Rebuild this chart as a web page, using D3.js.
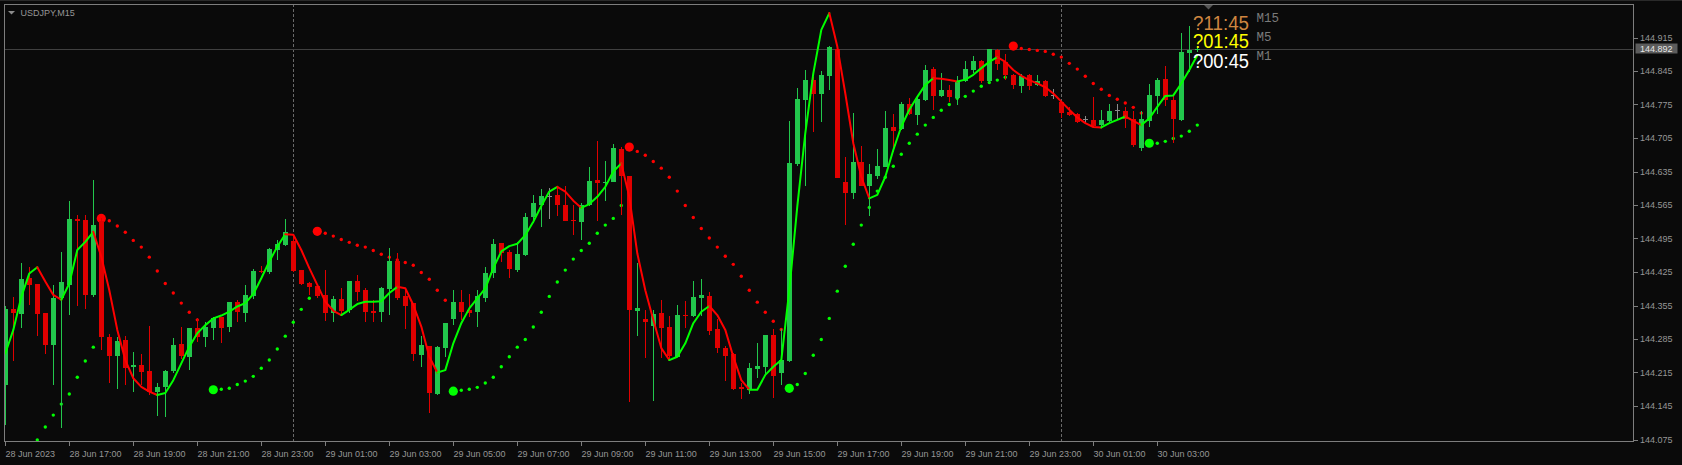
<!DOCTYPE html>
<html><head><meta charset="utf-8">
<script src="https://cdn.jsdelivr.net/npm/d3@7"></script>
<style>
html,body{margin:0;padding:0;background:#0a0a0a;overflow:hidden;}
svg{display:block;}
</style></head><body>
<svg id="c" width="1682" height="465"></svg>
<script>
// ---------- DATA ----------
const symbolTitle = "USDJPY,M15";
const opens = [
144.189,144.347,144.337,144.413,144.400,144.340,144.273,144.371,144.398,144.536,
144.534,144.377,144.532,144.289,144.250,144.282,144.227,144.231,144.218,144.174,
144.184,144.218,144.275,144.248,144.307,144.290,144.307,144.330,144.311,144.363,
144.340,144.375,144.428,144.424,144.471,144.481,144.490,144.429,144.402,144.396,
144.377,144.340,144.369,144.346,144.406,144.387,144.344,144.342,144.390,144.447,
144.375,144.360,144.252,144.270,144.170,144.267,144.327,144.362,144.346,144.342,
144.371,144.422,144.485,144.466,144.429,144.461,144.539,144.565,144.584,144.586,
144.565,144.534,144.530,144.565,144.617,144.610,144.614,144.682,144.626,144.344,
144.327,144.313,144.340,144.311,144.248,144.335,144.333,144.371,144.375,144.306,
144.266,144.254,144.185,144.179,144.222,144.227,144.294,144.213,144.238,144.651,
144.784,144.826,144.797,144.835,144.892,144.613,144.591,144.654,144.605,144.626,
144.645,144.729,144.723,144.776,144.753,144.784,144.849,144.793,144.805,144.788,
144.825,144.847,144.866,144.824,144.889,144.864,144.837,144.814,144.837,144.816,
144.824,144.795,144.781,144.760,144.755,144.745,144.743,144.732,144.741,144.764,
144.761,144.745,144.685,144.741,144.793,144.828,144.784,144.743,144.883,144.889];
const highs = [
144.354,144.373,144.443,144.436,144.400,144.340,144.398,144.467,144.573,144.544,
144.544,144.617,144.537,144.296,144.289,144.291,144.258,144.254,144.312,144.193,
144.220,144.288,144.311,144.307,144.328,144.321,144.332,144.330,144.363,144.367,
144.398,144.431,144.438,144.475,144.492,144.535,144.504,144.430,144.405,144.397,
144.429,144.375,144.391,144.406,144.419,144.391,144.367,144.394,144.475,144.464,
144.387,144.360,144.291,144.270,144.270,144.319,144.387,144.387,144.379,144.387,
144.436,144.494,144.485,144.471,144.488,144.548,144.586,144.599,144.600,144.603,
144.605,144.565,144.569,144.645,144.699,144.657,144.693,144.686,144.626,144.443,
144.346,144.346,144.367,144.333,144.356,144.364,144.406,144.410,144.383,144.327,
144.270,144.256,144.194,144.234,144.276,144.294,144.305,144.305,144.741,144.810,
144.847,144.833,144.846,144.898,144.893,144.665,144.757,144.688,144.651,144.682,
144.761,144.755,144.781,144.789,144.790,144.858,144.854,144.840,144.816,144.835,
144.866,144.876,144.868,144.892,144.890,144.881,144.838,144.839,144.839,144.837,
144.826,144.807,144.781,144.770,144.757,144.750,144.790,144.764,144.775,144.776,
144.769,144.761,144.761,144.818,144.830,144.856,144.793,144.924,144.939,144.897];
const lows = [
144.105,144.240,144.309,144.356,144.292,144.254,144.189,144.098,144.335,144.355,
144.347,144.372,144.261,144.194,144.181,144.189,144.175,144.189,144.168,144.125,
144.123,144.213,144.243,144.220,144.279,144.269,144.283,144.276,144.300,144.321,
144.321,144.369,144.422,144.421,144.450,144.479,144.425,144.398,144.377,144.370,
144.323,144.321,144.335,144.340,144.364,144.321,144.321,144.321,144.335,144.367,
144.305,144.240,144.227,144.131,144.168,144.248,144.314,144.325,144.332,144.311,
144.363,144.412,144.445,144.413,144.424,144.459,144.527,144.520,144.536,144.543,
144.531,144.502,144.492,144.562,144.532,144.574,144.613,144.544,144.154,144.292,
144.246,144.156,144.245,144.243,144.247,144.307,144.332,144.334,144.293,144.256,
144.198,144.179,144.159,144.170,144.204,144.210,144.161,144.189,144.237,144.647,
144.605,144.718,144.739,144.805,144.621,144.523,144.578,144.605,144.543,144.619,
144.644,144.676,144.722,144.753,144.732,144.782,144.764,144.791,144.781,144.774,
144.823,144.840,144.819,144.822,144.847,144.826,144.807,144.800,144.805,144.814,
144.791,144.787,144.746,144.751,144.736,144.737,144.725,144.727,144.739,144.745,
144.725,144.686,144.678,144.729,144.755,144.772,144.694,144.741,144.842,144.885];
const closes = [
144.347,144.340,144.410,144.398,144.337,144.273,144.371,144.404,144.536,144.532,
144.377,144.523,144.290,144.250,144.281,144.225,144.231,144.217,144.174,144.184,
144.218,144.273,144.250,144.307,144.289,144.311,144.328,144.309,144.363,144.342,
144.377,144.427,144.424,144.473,144.484,144.509,144.427,144.400,144.394,144.375,
144.340,144.369,144.344,144.406,144.384,144.342,144.340,144.391,144.447,144.371,
144.353,144.254,144.273,144.173,144.269,144.318,144.362,144.342,144.340,144.375,
144.422,144.483,144.464,144.431,144.463,144.539,144.569,144.584,144.584,144.565,
144.532,144.532,144.565,144.615,144.610,144.614,144.685,144.626,144.346,144.349,
144.321,144.337,144.309,144.250,144.335,144.334,144.373,144.377,144.302,144.267,
144.250,144.181,144.180,144.224,144.229,144.294,144.208,144.241,144.653,144.787,
144.826,144.797,144.837,144.896,144.622,144.591,144.654,144.605,144.630,144.647,
144.725,144.720,144.776,144.755,144.787,144.847,144.793,144.805,144.791,144.823,
144.849,144.866,144.824,144.891,144.860,144.837,144.816,144.835,144.814,144.824,
144.793,144.795,144.758,144.753,144.739,144.745,144.730,144.743,144.761,144.764,
144.744,144.690,144.745,144.795,144.826,144.784,144.744,144.885,144.889,144.892];
// smoothed trend line (green while rising, red while falling)
const maLine = [
144.255,144.304,144.373,144.422,144.435,144.405,144.377,144.367,144.401,144.471,
144.488,144.509,144.457,144.387,144.304,144.241,144.203,144.185,144.175,144.168,
144.172,144.199,144.234,144.269,144.297,144.314,144.328,144.334,144.342,144.353,
144.360,144.379,144.412,144.447,144.478,144.504,144.503,144.471,144.433,144.398,
144.363,144.344,144.335,144.346,144.358,144.363,144.363,144.364,144.381,144.394,
144.391,144.356,144.311,144.248,144.215,144.220,144.276,144.318,144.349,144.370,
144.391,144.433,144.468,144.479,144.484,144.502,144.530,144.563,144.593,144.603,
144.593,144.574,144.559,144.567,144.582,144.603,144.635,144.652,144.582,144.464,
144.387,144.325,144.266,144.241,144.248,144.276,144.318,144.342,144.354,144.335,
144.304,144.248,144.199,144.179,144.179,144.210,144.227,144.241,144.387,144.562,
144.715,144.840,144.931,144.966,144.896,144.798,144.694,144.624,144.579,144.586,
144.624,144.680,144.729,144.764,144.791,144.816,144.830,144.829,144.826,144.823,
144.827,144.837,144.851,144.864,144.874,144.864,144.847,144.835,144.826,144.819,
144.811,144.798,144.781,144.764,144.748,144.736,144.728,144.727,144.736,144.743,
144.750,144.741,144.732,144.746,144.770,144.793,144.794,144.819,144.847,144.878];
// parabolic stop dots (null = no visible dot)
const sarDots = [
null,null,null,null,144.074,144.101,144.126,144.149,144.170,144.205,
144.239,144.268,144.537,144.532,144.521,144.508,144.491,144.477,144.456,144.427,
144.401,144.381,144.360,144.341,144.325,null,144.179,144.180,144.182,144.190,
144.197,144.207,144.224,144.241,144.264,144.291,144.320,144.347,144.370,144.510,
144.506,144.500,144.493,144.487,144.481,144.477,144.470,144.462,144.456,144.450,
144.445,144.439,144.424,144.410,144.387,144.366,144.176,144.178,144.180,144.184,
144.193,144.205,144.227,144.248,144.268,144.284,144.310,144.341,144.374,144.404,
144.429,144.452,144.470,144.485,144.506,144.523,144.537,144.564,144.686,144.677,
144.669,144.656,144.642,144.623,144.594,144.564,144.539,144.516,144.496,144.477,
144.458,144.441,144.416,144.387,144.362,144.341,144.322,144.305,144.182,144.190,
144.213,144.251,144.284,144.328,144.385,144.437,144.483,144.523,144.560,144.594,
144.623,144.646,144.671,144.694,144.713,144.732,144.748,144.763,144.775,144.788,
144.792,144.803,144.813,144.821,144.826,144.832,144.897,144.892,144.890,144.888,
144.886,144.880,144.874,144.861,144.849,144.834,144.819,144.807,144.794,144.786,
144.778,144.769,144.757,144.694,144.694,144.698,144.704,144.709,144.719,144.732];
const priceTicks = [144.915,144.845,144.775,144.705,144.635,144.565,144.495,144.425,144.355,144.285,144.215,144.145,144.075];
const timeTickBars = [0,8,16,24,32,40,48,56,64,72,80,88,96,104,112,120,128,136,144];
const timeTickLabels = ["28 Jun 2023","28 Jun 17:00","28 Jun 19:00","28 Jun 21:00","28 Jun 23:00",
  "29 Jun 01:00","29 Jun 03:00","29 Jun 05:00","29 Jun 07:00","29 Jun 09:00","29 Jun 11:00",
  "29 Jun 13:00","29 Jun 15:00","29 Jun 17:00","29 Jun 19:00","29 Jun 21:00","29 Jun 23:00",
  "30 Jun 01:00","30 Jun 03:00"];
const daySeparatorBars = [36, 132];
const lastPrice = 144.892;
const timerTexts = ["?11:45","?01:45","?00:45"];
const timerFrames = ["M15","M5","M1"];
const timerColors = ["#cf8640","#ffff00","#ffffff"];

// ---------- CHART ----------
const W = 1682, H = 465;
const L = 4, R = 1634, T = 4, B = 442;
const svg = d3.select("#c");
const x = d3.scaleLinear().domain([0, opens.length - 1]).range([5.3, 5.3 + 8 * (opens.length - 1)]);
const y = d3.scaleLinear().domain([144.075, 144.915]).range([439.5, 37.5]);

svg.append("rect").attr("width", W).attr("height", H).attr("fill", "#0a0a0a");
svg.append("line").attr("x1", 0).attr("x2", W).attr("y1", 0.5).attr("y2", 0.5).attr("stroke", "#2a2a2a");

svg.append("defs").append("clipPath").attr("id", "clip")
  .append("rect").attr("x", L + 1).attr("y", T + 1).attr("width", R - L - 1).attr("height", B - T - 1);
const plot = svg.append("g").attr("clip-path", "url(#clip)");

// day separators
plot.selectAll(".sep").data(daySeparatorBars).join("line")
  .attr("x1", d => Math.floor(x(d)) + 0.5).attr("x2", d => Math.floor(x(d)) + 0.5)
  .attr("y1", T).attr("y2", B)
  .attr("stroke", "#6a6a6a").attr("stroke-dasharray", "3,2");

// last price line
const yLast = Math.round(y(lastPrice)) + 0.5;
plot.append("line").attr("x1", L).attr("x2", R).attr("y1", yLast).attr("y2", yLast).attr("stroke", "#404040");

// SAR dots
const sarData = [];
let prevDir = null;
sarDots.forEach((v, i) => {
  if (v == null) return;
  const dir = v < closes[i] ? 1 : -1;
  const big = prevDir !== null && dir !== prevDir;
  sarData.push({ i, v, dir, big });
  prevDir = dir;
});
plot.selectAll(".sar").data(sarData).join("circle")
  .attr("cx", d => x(d.i)).attr("cy", d => y(d.v))
  .attr("r", d => d.big ? 4.6 : 1.7)
  .attr("fill", d => d.dir > 0 ? "#00ff00" : "#ff0000");

// candles
const bull = "#22c74c", bear = "#e00000", dojiC = "#8c8c8c";
const idx = d3.range(opens.length);
const colorOf = i => closes[i] > opens[i] ? bull : (closes[i] < opens[i] ? bear : dojiC);
plot.selectAll(".wick").data(idx).join("rect")
  .attr("x", i => Math.floor(x(i))).attr("width", 1)
  .attr("y", i => Math.round(y(highs[i])))
  .attr("height", i => Math.max(1, Math.round(y(lows[i])) - Math.round(y(highs[i]))))
  .attr("fill", colorOf);
plot.selectAll(".body").data(idx).join("rect")
  .attr("x", i => Math.round(x(i) - 2.5)).attr("width", 5)
  .attr("y", i => Math.round(y(Math.max(opens[i], closes[i]))))
  .attr("height", i => Math.max(1, Math.round(y(Math.min(opens[i], closes[i]))) - Math.round(y(Math.max(opens[i], closes[i])))))
  .attr("fill", colorOf);

// smoothed line split into rising/falling runs
const runs = [];
let cur = null;
for (let i = 1; i < maLine.length; i++) {
  const up = maLine[i] >= maLine[i - 1];
  if (!cur || cur.up !== up) { cur = { up, pts: [i - 1] }; runs.push(cur); }
  cur.pts.push(i);
}
const lineGen = d3.line().x(i => x(i)).y(i => y(maLine[i]));
plot.selectAll(".ma").data(runs).join("path")
  .attr("d", r => lineGen(r.pts)).attr("fill", "none")
  .attr("stroke", r => r.up ? "#00ff00" : "#ff0000")
  .attr("stroke-width", 2).attr("stroke-linejoin", "round").attr("stroke-linecap", "round");

// frame
svg.append("rect").attr("x", L + 0.5).attr("y", T + 0.5).attr("width", R - L - 1).attr("height", B - T - 1)
  .attr("fill", "none").attr("stroke", "#7d7d7d");

// price axis
const axisColor = "#969696";
const font = "'Liberation Sans', Arial, sans-serif";
const pa = svg.append("g");
pa.selectAll("line").data(priceTicks).join("line")
  .attr("x1", R).attr("x2", R + 4)
  .attr("y1", d => Math.round(y(d)) + 0.5).attr("y2", d => Math.round(y(d)) + 0.5)
  .attr("stroke", "#7d7d7d");
pa.selectAll("text").data(priceTicks).join("text")
  .attr("x", 1640).attr("y", d => y(d) + 3.3)
  .attr("font-family", font).attr("font-size", 9).attr("fill", axisColor)
  .text(d => d3.format(".3f")(d));

// last price label
const lpY = y(lastPrice);
svg.append("rect").attr("x", 1635.5).attr("y", lpY - 5).attr("width", 42).attr("height", 10).attr("fill", "#5c5c5c");
svg.append("text").attr("x", 1640).attr("y", lpY + 3.3).attr("font-family", font).attr("font-size", 9)
  .attr("fill", "#e6e6e6").text(d3.format(".3f")(lastPrice));

// time axis
const ta = svg.append("g");
ta.selectAll("line").data(timeTickBars).join("line")
  .attr("x1", d => Math.floor(x(d)) + 0.5).attr("x2", d => Math.floor(x(d)) + 0.5)
  .attr("y1", B).attr("y2", B + 4).attr("stroke", "#7d7d7d");
ta.selectAll("text").data(timeTickBars).join("text")
  .attr("x", d => Math.floor(x(d)) + 0.5).attr("y", 457)
  .attr("font-family", font).attr("font-size", 9).attr("fill", axisColor)
  .text((d, k) => timeTickLabels[k]);

// title
svg.append("path").attr("d", "M8,11 L15,11 L11.5,14.5 Z").attr("fill", "#8c8c8c");
svg.append("text").attr("x", 20.5).attr("y", 16.3).attr("font-family", font).attr("font-size", 9)
  .attr("fill", "#969696").text(symbolTitle);

// chart shift marker
svg.append("path").attr("d", "M1204,5 L1213,5 L1208.5,9.5 Z").attr("fill", "#555555");

// timers
const timerBase = [30, 48.3, 68.3];
const frameBase = [21.7, 40.7, 60];
timerTexts.forEach((t, k) => {
  svg.append("text").attr("x", 1193).attr("y", timerBase[k])
    .attr("font-family", font).attr("font-size", 20)
    .attr("textLength", 56).attr("lengthAdjust", "spacingAndGlyphs")
    .attr("fill", timerColors[k]).text(t);
  svg.append("text").attr("x", 1256.5).attr("y", frameBase[k])
    .attr("font-family", "'Liberation Mono', 'Courier New', monospace").attr("font-size", 12.5)
    .attr("fill", "#7a7a7a").text(timerFrames[k]);
});
</script>
</body></html>
